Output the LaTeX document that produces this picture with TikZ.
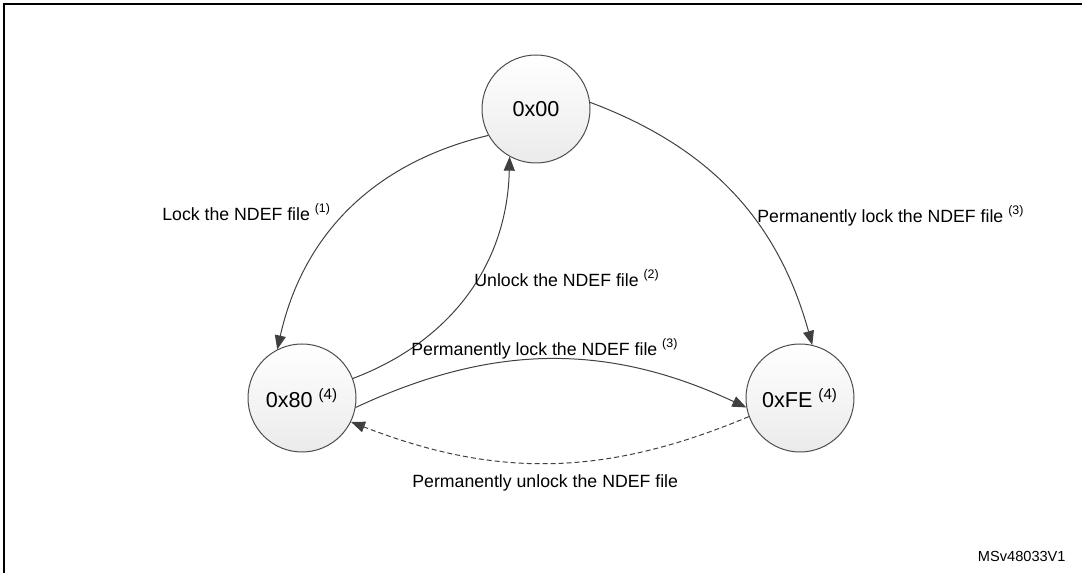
\documentclass[tikz,border=0pt]{standalone}
\usepackage{fontspec}
\setmainfont{Liberation Sans}
\usetikzlibrary{arrows.meta}

\tikzset{
  state/.style={circle,draw=black!70,line width=0.5pt,top color=white,bottom color=black!8,
    minimum size=54pt,inner sep=0pt,font=\fontsize{10.8}{13}\selectfont},
  trans/.style={draw=black!75,line width=0.5pt,-{Triangle[length=7pt,width=5.5pt]}},
  lbl/.style={anchor=west,inner sep=0pt,font=\fontsize{8.85}{11}\selectfont}
}

\begin{document}
\begin{tikzpicture}[x=0.5pt,y=0.5pt]
\useasboundingbox (0,0) rectangle (1082,573);
\draw[line width=1.4pt] (4,0)--(4,569)--(1082,569);
% states
\node[state] (s00) at (536,464) {0x00};
\node[state] (s80) at (302,175) {0x80 \textsuperscript{(4)}};
\node[state] (sFE) at (800,175) {0xFE \textsuperscript{(4)}};
% transitions
\draw[trans] (s00.209) to[bend right=32] (s80.117);
\draw[trans] (s80.21) to[bend right=34] (s00.241);
\draw[trans] (s00.7) to[bend left=27] (sFE.77);
\draw[trans] (s80.350) to[bend left=25] (sFE.190);
\draw[trans,dash pattern=on 2.5pt off 1.5pt] (sFE.200) to[bend left=22] (s80.334);
% labels
\node[lbl] (lock) at (162,361) {Lock the NDEF file \textsuperscript{(1)}};
\node[lbl] (unlock) at (474,295) {Unlock the NDEF file \textsuperscript{(2)}};
\node[lbl] (permA) at (757,357) {Permanently lock the NDEF file \textsuperscript{(3)}};
\node[lbl] (permB) at (411,224) {Permanently lock the NDEF file \textsuperscript{(3)}};
\node[lbl] (unperm) at (412,90) {Permanently unlock the NDEF file};
\node[anchor=east,inner sep=0pt,font=\fontsize{7.3}{9}\selectfont] (ref) at (1066,17) {MSv48033V1};
\end{tikzpicture}
\end{document}
